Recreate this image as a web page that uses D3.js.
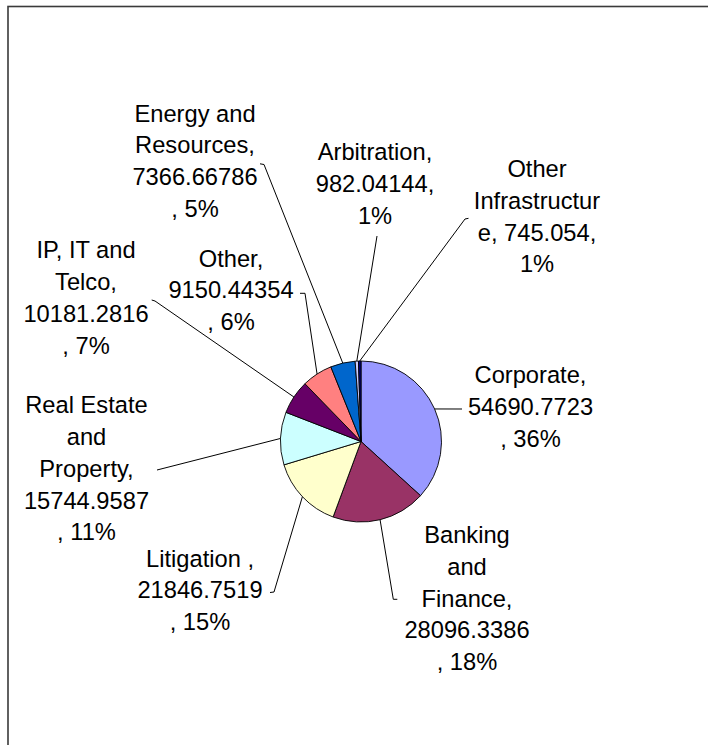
<!DOCTYPE html>
<html lang="en">
<head>
  <script src="https://d3js.org/d3.v7.min.js"></script>
  <style>
    body {
      margin: 0;
      background: #fff;
    }
    .label {
      font: 23.7px "Liberation Sans", Arial, sans-serif;
      fill: #000;
    }
  </style>
</head>
<body>
<div id="chart"></div>
<script>
  // sectors, clockwise from 12 o'clock
  var categories = ["Corporate", "Banking and Finance", "Litigation ", "Real Estate and Property",
    "IP, IT and Telco", "Other", "Energy and Resources", "Arbitration", "Other Infrastructure"];
  var values = [54690.7723, 28096.3386, 21846.7519, 15744.9587, 10181.2816, 9150.44354,
    7366.66786, 982.04144, 745.054];
  var percentLabels = ["36%", "18%", "15%", "11%", "7%", "6%", "5%", "1%", "1%"];
  var colors = ["#9999FF", "#993366", "#FFFFCC", "#CCFFFF", "#660066", "#FF8080",
    "#0066CC", "#CCCCFF", "#000080"];

  // label text as wrapped in the chart
  var labelLines = [
    ["Corporate,", "54690.7723", ", 36%"],
    ["Banking", "and", "Finance,", "28096.3386", ", 18%"],
    ["Litigation ,", "21846.7519", ", 15%"],
    ["Real Estate", "and", "Property,", "15744.9587", ", 11%"],
    ["IP, IT and", "Telco,", "10181.2816", ", 7%"],
    ["Other,", "9150.44354", ", 6%"],
    ["Energy and", "Resources,", "7366.66786", ", 5%"],
    ["Arbitration,", "982.04144,", "1%"],
    ["Other", "Infrastructur", "e, 745.054,", "1%"]
  ];

  // where each label sits and where its leader line bends/ends
  var labelLayout = [
    {x: 530.5, y: 383, leader: [[462, 409]]},
    {x: 467, y: 543, leader: [[393.3, 599.3], [397.3, 599.3]]},
    {x: 200, y: 566.7, leader: [[274, 592], [270, 592.5]]},
    {x: 86.5, y: 413.3, leader: [[157, 470]]},
    {x: 86, y: 258.3, leader: [[155, 301], [151.7, 300]]},
    {x: 231, y: 266.7, leader: [[305, 293.3], [300, 293.3]]},
    {x: 195, y: 121.7, leader: [[264, 164.5], [260, 163.8]]},
    {x: 375, y: 160, leader: [[377, 236]]},
    {x: 537, y: 177, leader: [[465, 219], [468.5, 218.3]]}
  ];

  var width = 708, height = 745;
  var cx = 361, cy = 441.5, radius = 80.5;
  var lineHeight = 31.75;

  var svg = d3.select("#chart").append("svg")
          .attr("width", width)
          .attr("height", height);

  // outer frame (only top and left edges are visible)
  svg.append("rect")
          .attr("x", 8)
          .attr("y", 6.5)
          .attr("width", 900)
          .attr("height", 900)
          .attr("fill", "none")
          .attr("stroke", "#3a3a3a")
          .attr("stroke-width", 1.6);

  var data = categories.map(function (c, i) {
    return {name: c, value: values[i], pct: percentLabels[i], color: colors[i],
      lines: labelLines[i], layout: labelLayout[i]};
  });

  var pie = d3.pie().sort(null).value(function (d) { return d.value; });
  var arc = d3.arc().innerRadius(0).outerRadius(radius);
  var arcs = pie(data);

  var g = svg.append("g")
          .attr("transform", "translate(" + cx + "," + cy + ")");

  g.selectAll("path.slice")
          .data(arcs)
          .enter().append("path")
          .attr("class", "slice")
          .attr("d", arc)
          .attr("fill", function (d) { return d.data.color; })
          .attr("stroke", "#000")
          .attr("stroke-width", 0.9)
          .attr("stroke-linejoin", "round");

  // leader lines: from the middle of each slice's rim out to its label
  var line = d3.line();
  svg.selectAll("path.leader")
          .data(arcs)
          .enter().append("path")
          .attr("class", "leader")
          .attr("d", function (d) {
            var a = (d.startAngle + d.endAngle) / 2;
            var start = [cx + radius * Math.sin(a), cy - radius * Math.cos(a)];
            return line([start].concat(d.data.layout.leader));
          })
          .attr("fill", "none")
          .attr("stroke", "#000")
          .attr("stroke-width", 1);

  var labels = svg.selectAll("text.label")
          .data(arcs)
          .enter().append("text")
          .attr("class", "label")
          .attr("text-anchor", "middle")
          .attr("x", function (d) { return d.data.layout.x; })
          .attr("y", function (d) { return d.data.layout.y; });

  labels.selectAll("tspan")
          .data(function (d) {
            return d.data.lines.map(function (t) { return {t: t, x: d.data.layout.x}; });
          })
          .enter().append("tspan")
          .attr("x", function (d) { return d.x; })
          .attr("dy", function (d, i) { return i === 0 ? 0 : lineHeight; })
          .text(function (d) { return d.t; });
</script>
</body>
</html>
